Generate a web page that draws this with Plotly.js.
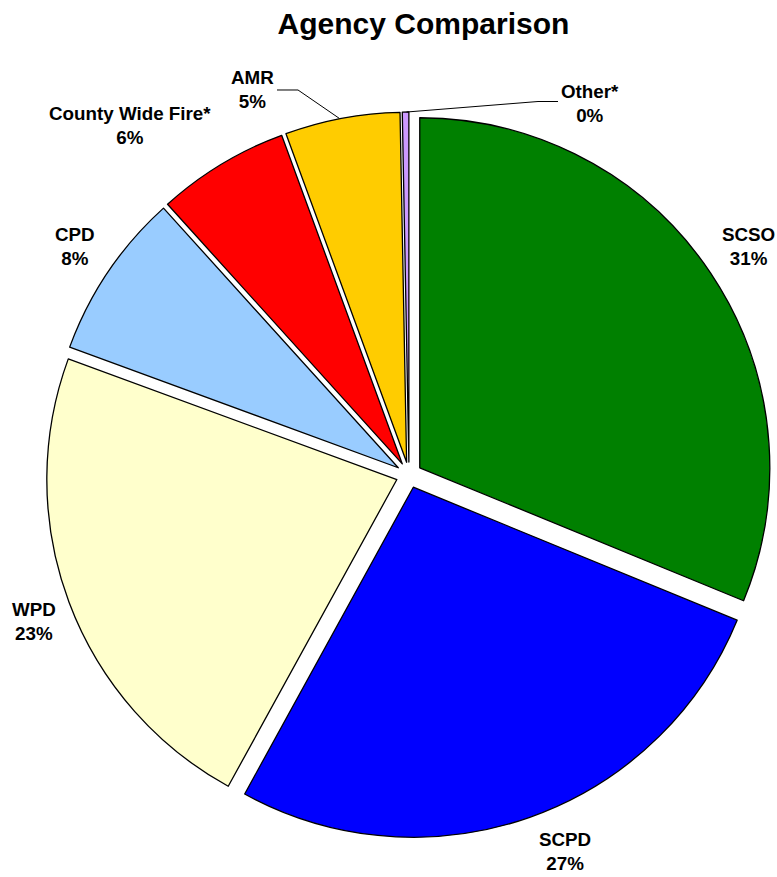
<!DOCTYPE html>
<html>
<head>
<meta charset="utf-8">
<script src="https://cdn.plot.ly/plotly-3.0.1.min.js"></script>
<style>
  html, body { margin: 0; padding: 0; background: #ffffff; }
  #chart { width: 777px; height: 877px; }
</style>
</head>
<body>
<div id="chart"></div>
<script>
// Data (share of total, %)
const agencies = ["SCSO", "SCPD", "WPD", "CPD", "County Wide Fire*", "AMR", "Other*"];
const shares   = [31.2, 26.8, 22.6, 7.7, 6.1, 5.3, 0.3];
const sliceColors = ["#008000", "#0000FF", "#FFFFCC", "#99CCFF", "#FF0000", "#FFCC00", "#CC99FF"];

const W = 777, H = 877;
const FONT = "Arial, 'Liberation Sans', sans-serif";
const LABEL_FONT = { family: FONT, size: 18.8, color: "#000000", weight: "bold" };

// Label block centres (page pixels) as laid out in the reference
const labelPos = [[748, 246], [565, 851], [34, 621], [75, 247], [130, 126], [252, 90], [590, 103]];

// pie geometry (page pixels): centre and outer radius of the domain box
const PULL = 0.037;
const CX = 409, CY = 475, RBOX = 363;

const px2x = x => x / W;
const px2y = y => 1 - y / H;

const total = shares.reduce((a, b) => a + b, 0);

// Point on the (pulled) outer edge of slice i, at its bisector
function sliceEdge(i) {
  let cum = 0;
  for (let k = 0; k < i; k++) cum += shares[k];
  const mid = (cum + shares[i] / 2) / total * 2 * Math.PI;
  return [CX + RBOX * Math.sin(mid), CY - RBOX * Math.cos(mid)];
}

const trace = {
  type: "pie",
  labels: agencies,
  values: shares,
  sort: false,
  direction: "clockwise",
  rotation: 0,
  pull: PULL,
  marker: { colors: sliceColors, line: { color: "#000000", width: 1.3 } },
  textinfo: "none",
  hoverinfo: "label+percent",
  domain: { x: [(CX - RBOX) / W, (CX + RBOX) / W], y: [1 - (CY + RBOX) / H, 1 - (CY - RBOX) / H] },
  automargin: false,
  showlegend: false
};

const annotations = agencies.map((name, i) => ({
  text: name + "<br>" + Math.round(shares[i] / total * 100) + "%",
  x: px2x(labelPos[i][0]),
  y: px2y(labelPos[i][1]),
  xref: "paper", yref: "paper",
  xanchor: "center", yanchor: "middle",
  align: "center",
  showarrow: false,
  font: LABEL_FONT
}));

// Leader lines for the two narrow slices (AMR, Other*)
const amrEdge = sliceEdge(5);
const othEdge = sliceEdge(6);
function pathOf(pts) {
  return pts.map((p, k) => (k ? "L" : "M") + px2x(p[0]).toFixed(5) + "," + px2y(p[1]).toFixed(5)).join(" ");
}
const shapes = [
  { type: "path", xref: "paper", yref: "paper",
    path: pathOf([[277, 90], [298, 90], [amrEdge[0] - 3, amrEdge[1]]]),
    line: { color: "#000000", width: 1 } },
  { type: "path", xref: "paper", yref: "paper",
    path: pathOf([[othEdge[0] + 1, othEdge[1]], [538, 101.5], [558, 101.5]]),
    line: { color: "#000000", width: 1 } }
];

const layout = {
  width: W,
  height: H,
  margin: { l: 0, r: 0, t: 0, b: 0 },
  paper_bgcolor: "#ffffff",
  plot_bgcolor: "#ffffff",
  title: {
    text: "Agency Comparison",
    font: { family: FONT, size: 30, color: "#000000", weight: "bold" },
    x: 0.545,
    xanchor: "center",
    xref: "paper",
    y: 1 - 23.5 / H,
    yref: "container",
    yanchor: "middle"
  },
  annotations: annotations,
  shapes: shapes,
  showlegend: false
};

Plotly.newPlot("chart", [trace], layout, { displayModeBar: false, staticPlot: true });
</script>
</body>
</html>
